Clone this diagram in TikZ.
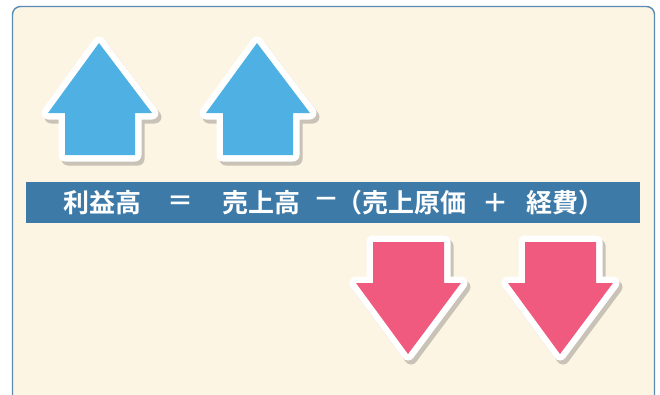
\documentclass[tikz,border=0pt]{standalone}
\usepackage{fontspec}
\newfontfamily\jp{Noto Sans CJK JP Bold}
\definecolor{cream}{HTML}{FDF5E4}
\definecolor{framec}{HTML}{5A8BB2}
\definecolor{bandc}{HTML}{3D7AA8}
\definecolor{upc}{HTML}{4FB0E3}
\definecolor{downc}{HTML}{F05A7E}
\definecolor{shadowc}{HTML}{C9C2B6}
\tikzset{
  shadowpath/.style={fill=shadowc,draw=shadowc,line width=13pt,line join=round},
  whitepath/.style={fill=white,draw=white,line width=13pt,line join=round},
  upfill/.style={fill=upc},
  downfill/.style={fill=downc},
  formula/.style={text=white,font=\jp\fontsize{26}{26}\selectfont,inner sep=0pt}
}
\newcommand{\uparr}[2]{% tip x, tip y
  (#1,#2) -- ++(-51,70) -- ++(17,0) -- ++(0,42) -- ++(70,0) -- ++(0,-42) -- ++(17,0) -- cycle}
\newcommand{\downarr}[2]{% tip x, tip y
  (#1,#2) -- ++(-52,-71) -- ++(17,0) -- ++(0,-41) -- ++(71,0) -- ++(0,41) -- ++(17,0) -- cycle}
\begin{document}
\begin{tikzpicture}[x=1pt,y=-1pt]
\useasboundingbox (0,0) rectangle (660,394);
\fill[white] (0,0) rectangle (660,394);
\draw[framec,line width=1.4pt,fill=cream,rounded corners=8pt] (12.5,6.5) rectangle (654.5,410);
% up arrows
\foreach \tx in {99,257}{
  \path[shadowpath] [shift={(3,4)}] \uparr{\tx}{43};
  \path[whitepath] \uparr{\tx}{43};
  \path[upfill] \uparr{\tx}{43};
}
% down arrows
\foreach \tx in {408,560}{
  \path[shadowpath] [shift={(3,4)}] \downarr{\tx}{354};
  \path[whitepath] \downarr{\tx}{354};
  \path[downfill] \downarr{\tx}{354};
}
% band
\fill[bandc] (26,182) rectangle (640,223);
\node[formula] (t1) at (102,203) {利益高};
\node[formula] (t2) at (180,203) {＝};
\node[formula] (t3) at (261,203) {売上高};
\node[formula] (t4) at (326,203) {\makebox[12pt]{－}};
\node[formula,anchor=east] (t5) at (467,203) {（売上原価};
\node[formula] (t6) at (495,203) {＋};
\node[formula,anchor=west] (t7) at (526,203) {経費）};
\end{tikzpicture}
\end{document}
